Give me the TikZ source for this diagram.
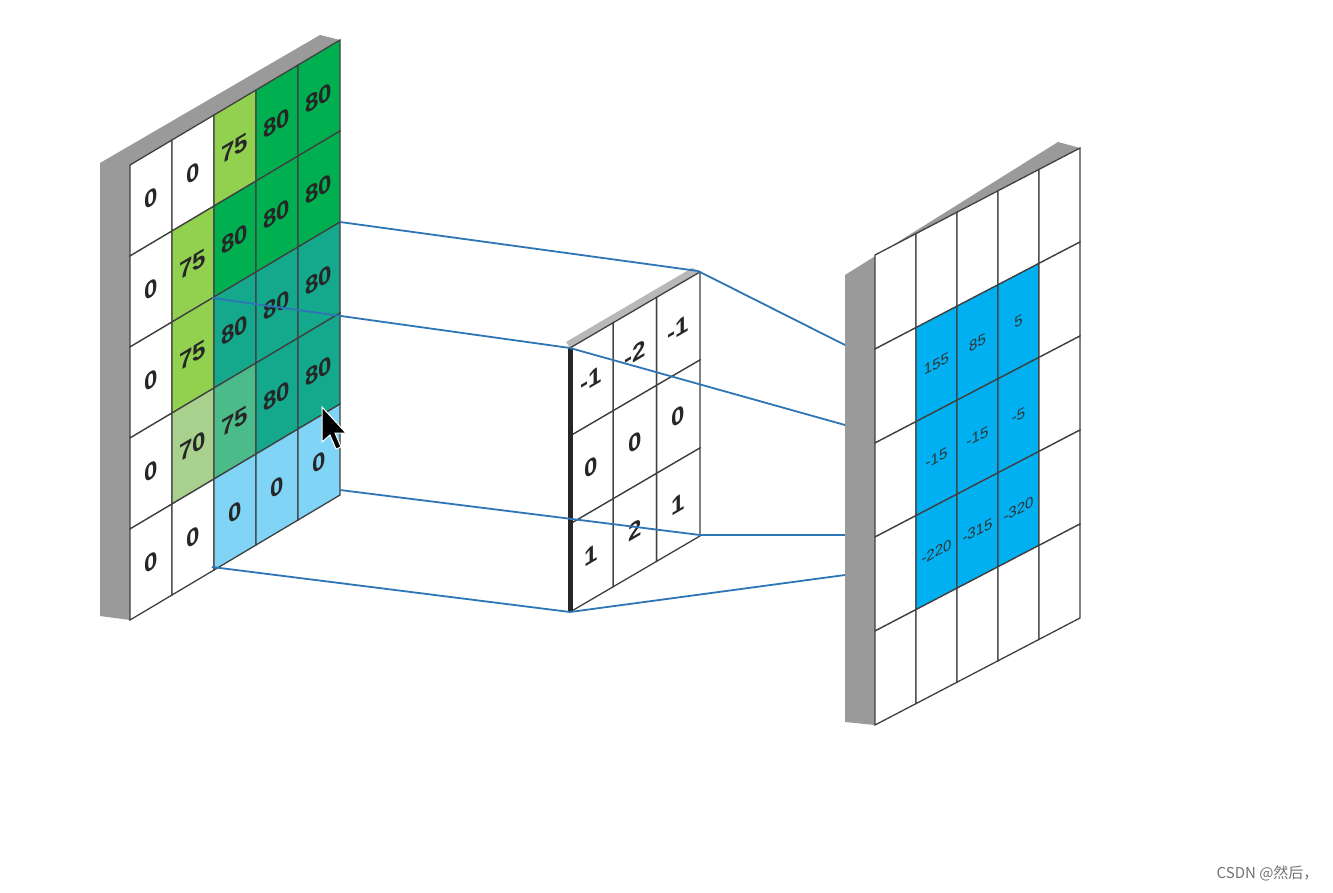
\documentclass[tikz,border=0pt]{standalone}
\usepackage{fontspec}
\setmainfont{Liberation Sans}
\setsansfont{Liberation Sans}
\newfontfamily\cjk{Noto Sans CJK SC}
\definecolor{lg}{HTML}{92D050}
\definecolor{dg}{HTML}{00B050}
\definecolor{tl}{HTML}{14A98C}
\definecolor{pg}{HTML}{A9D18E}
\definecolor{mt}{HTML}{4CBB8A}
\definecolor{lb}{HTML}{80D4F6}
\definecolor{ob}{HTML}{00B0F0}
\definecolor{ln}{HTML}{2E75B6}
\definecolor{gridc}{HTML}{404040}
\definecolor{side}{HTML}{9A9A9A}
\newcommand\skcell[9]{%
\pgfmathsetmacro\ax{#1+#6*#3}\pgfmathsetmacro\ay{#2+#6*#3*#4+#7*#5}%
\pgfmathsetmacro\bx{\ax+#3}\pgfmathsetmacro\by{\ay+#3*#4}%
\pgfmathsetmacro\cx{(\ax+\bx)/2}\pgfmathsetmacro\cy{(\ay+\by)/2+#5/2}%
\pgfmathsetmacro\sl{-(#4)}%
\filldraw[fill=#8,draw=gridc,line width=1.3pt] (\ax,\ay) -- (\bx,\by) -- (\bx,\by+#5) -- (\ax,\ay+#5) -- cycle;
\node[cellt,yslant=\sl] at (\cx,\cy) {#9};}
\begin{document}
\begin{tikzpicture}[x=1pt,y=-1pt,cellt/.style={font=\sffamily\bfseries\fontsize{24}{26}\selectfont,text=black!85}]
\useasboundingbox (0,0) rectangle (1333,893);
\fill[white] (0,0) rectangle (1333,893);
% left grid
\fill[side] (100,163)--(320,35)--(340,40)--(130,165)--(130,620)--(100,616)--cycle;
\foreach \i/\j/\c/\t in {0/0/white/0,1/0/white/0,2/0/lg/75,3/0/dg/80,4/0/dg/80,
 0/1/white/0,1/1/lg/75,2/1/dg/80,3/1/dg/80,4/1/dg/80,
 0/2/white/0,1/2/lg/75,2/2/tl/80,3/2/tl/80,4/2/tl/80,
 0/3/white/0,1/3/pg/70,2/3/mt/75,3/3/tl/80,4/3/tl/80,
 0/4/white/0,1/4/white/0,2/4/lb/0,3/4/lb/0,4/4/lb/0}
 {\skcell{130}{165}{42}{-0.595}{91}{\i}{\j}{\c}{\t}}
% kernel
\fill[side!70] (566,342)--(692,268)--(700,272)--(570,348)--cycle;
\foreach \i/\j/\t in {0/0/-1,1/0/-2,2/0/-1,0/1/0,1/1/0,2/1/0,0/2/1,1/2/2,2/2/1}
 {\skcell{570}{348}{43.3}{-0.585}{88}{\i}{\j}{white}{\t}}
\draw[line width=5pt,black!85] (570,348) -- (570,612);
% output
\fill[side] (845,275)--(1058,142)--(1080,148)--(875,255)--(875,725)--(845,722)--cycle;
\begin{scope}[cellt/.style={font=\sffamily\fontsize{15}{17}\selectfont,text=black!80}]
\foreach \i/\j/\c/\t in {0/0/white/,1/0/white/,2/0/white/,3/0/white/,4/0/white/,
 0/1/white/,1/1/ob/155,2/1/ob/85,3/1/ob/5,4/1/white/,
 0/2/white/,1/2/ob/-15,2/2/ob/-15,3/2/ob/-5,4/2/white/,
 0/3/white/,1/3/ob/-220,2/3/ob/-315,3/3/ob/-320,4/3/white/,
 0/4/white/,1/4/white/,2/4/white/,3/4/white/,4/4/white/}
 {\skcell{875}{255}{41}{-0.522}{94}{\i}{\j}{\c}{\t}}
\end{scope}
% connector coordinates
\coordinate (oTL) at (212,298); \coordinate (oTR) at (340,222);
\coordinate (oBR) at (340,490); \coordinate (oBL) at (212,567);
\coordinate (kTL) at (570,348); \coordinate (kTR) at (698,271);
\coordinate (kBR) at (700,535); \coordinate (kBL) at (570,612);
\coordinate (r1) at (845,345); \coordinate (r2) at (845,425);
\coordinate (r3) at (845,535); \coordinate (r4) at (845,575);
\begin{scope}[ln,line width=1.8pt]
\draw (oTR) -- (kTR); \draw (oTL) -- (kTL); \draw (oBR) -- (kBR); \draw (oBL) -- (kBL);
\draw (kTR) -- (r1); \draw (kTL) -- (r2); \draw (kBR) -- (r3); \draw (kBL) -- (r4);
\end{scope}
% cursor
\filldraw[fill=black,draw=white,line width=1pt] (322,407)--(322,442)--(330,435)--(336,449)--(341,447)--(335,433)--(346,433)--cycle;
\node[font=\cjk\fontsize{15}{17}\selectfont,text=black!55,anchor=east] (wm) at (1322,873) {CSDN @然后，};
\end{tikzpicture}
\end{document}
